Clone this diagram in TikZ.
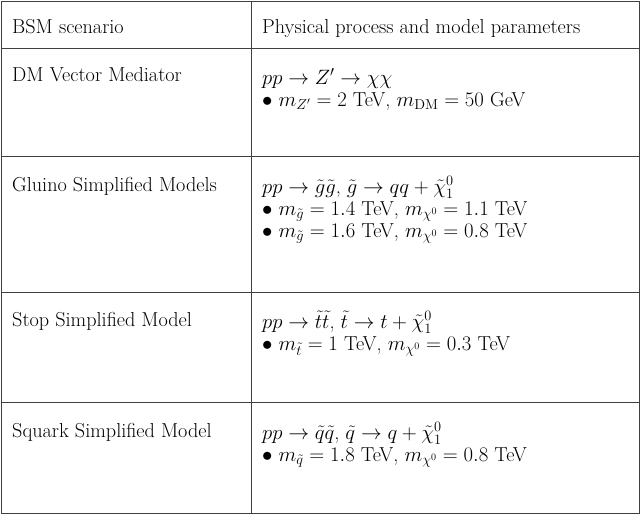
\documentclass[tikz,border=0pt]{standalone}
\usepackage{amssymb}
\begin{document}
\begin{tikzpicture}[x=1pt,y=-1pt,
  txt/.style={anchor=base west,inner sep=0pt,font=\fontsize{20.2}{24}\selectfont},
  rule/.style={line width=1pt,draw=black!75}]
\useasboundingbox (0,0) rectangle (640,515);
\draw[rule] (1,1) rectangle (639,513);
\draw[rule] (251,1) -- (251,513);
\foreach \y in {48,156,292,402} \draw[rule] (1,\y) -- (639,\y);
\node[txt] (h1) at (12,33) {BSM scenario};
\node[txt] (h2) at (262,33) {Physical process and model parameters};
\node[txt] (a1) at (12,81) {DM Vector Mediator};
\node[txt] (b1) at (262,84) {$pp\to Z'\to\chi\chi$};
\node[txt] (b2) at (262,106) {$\bullet$ $m_{Z'}=2$ TeV, $m_{\mathrm{DM}}=50$ GeV};
\node[txt] (a2) at (12,191) {Gluino Simplified Models};
\node[txt] (c1) at (262,193) {$pp\to\tilde g\tilde g$, $\tilde g\to qq+\tilde\chi^0_1$};
\node[txt] (c2) at (262,215) {$\bullet$ $m_{\tilde g}=1.4$ TeV, $m_{\chi^0}=1.1$ TeV};
\node[txt] (c3) at (262,237) {$\bullet$ $m_{\tilde g}=1.6$ TeV, $m_{\chi^0}=0.8$ TeV};
\node[txt] (a3) at (12,326) {Stop Simplified Model};
\node[txt] (d1) at (262,328) {$pp\to\tilde t\tilde t$, $\tilde t\to t+\tilde\chi^0_1$};
\node[txt] (d2) at (262,350) {$\bullet$ $m_{\tilde t}=1$ TeV, $m_{\chi^0}=0.3$ TeV};
\node[txt] (a4) at (12,437) {Squark Simplified Model};
\node[txt] (e1) at (262,439) {$pp\to\tilde q\tilde q$, $\tilde q\to q+\tilde\chi^0_1$};
\node[txt] (e2) at (262,461) {$\bullet$ $m_{\tilde q}=1.8$ TeV, $m_{\chi^0}=0.8$ TeV};
\end{tikzpicture}
\end{document}
